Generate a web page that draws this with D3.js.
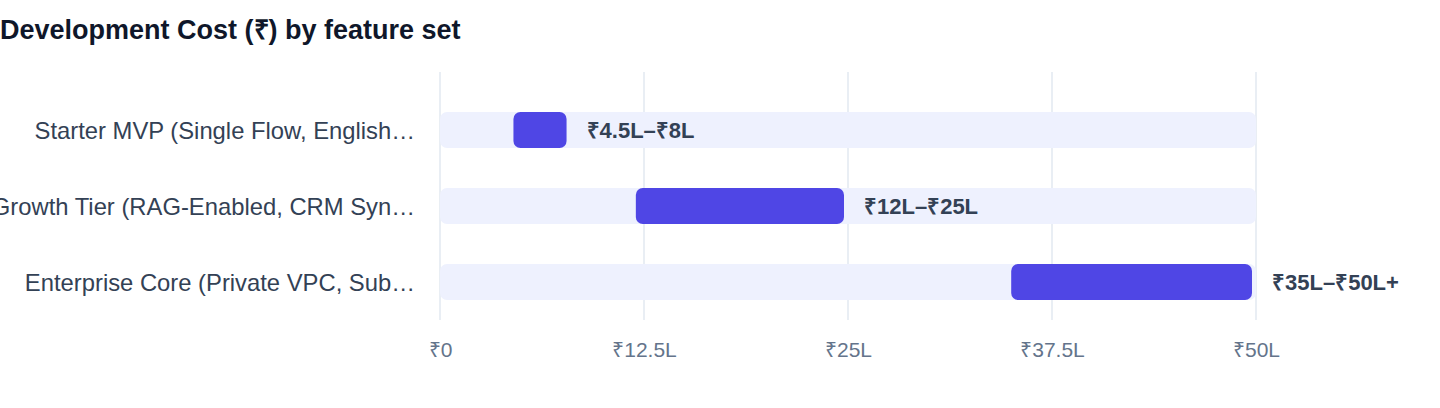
<!DOCTYPE html>
<html>
<head>
<meta charset="utf-8">
<script src="https://cdn.jsdelivr.net/npm/d3@7"></script>
<style>
  html, body { margin: 0; padding: 0; background: #ffffff; }
  body { font-family: "Helvetica Neue", Helvetica, Arial, "Liberation Sans", sans-serif; }
</style>
</head>
<body>
<div id="chart"></div>
<script>
// 数据
const title = 'Development Cost (₹) by feature set'
const categories = [
  'Starter MVP (Single Flow, English Only)',
  'Growth Tier (RAG-Enabled, CRM Sync)',
  'Enterprise Core (Private VPC, Sub-second Latency)'
]
const costLow = [4.5, 12, 35]
const costHigh = [8, 25, 50]
const rangeLabels = ['₹4.5L–₹8L', '₹12L–₹25L', '₹35L–₹50L+']
const tickValues = [0, 12.5, 25, 37.5, 50]
const tickLabels = ['₹0', '₹12.5L', '₹25L', '₹37.5L', '₹50L']

const width = 1440
const height = 408
const margin = { left: 440, right: 184, top: 72, bottom: 88 }
const maxChars = 33

const rows = categories.map((c, i) => ({
  name: c.length > maxChars ? c.slice(0, maxChars) + '…' : c,
  low: costLow[i],
  high: costHigh[i],
  label: rangeLabels[i]
}))

const svg = d3.select('#chart')
  .append('svg')
  .attr('width', width)
  .attr('height', height)

// 标题
svg.append('text')
  .attr('x', 0)
  .attr('y', 39)
  .style('font-size', '27px')
  .style('font-weight', 700)
  .style('fill', '#0f172a')
  .text(title)

const x = d3.scaleLinear()
  .domain([0, 50])
  .range([margin.left, width - margin.right])

const plotBottom = height - margin.bottom
const y = d3.scaleBand()
  .domain(rows.map(d => d.name))
  .range([margin.top + 20, plotBottom])
  .paddingInner(40 / 76)
  .paddingOuter(20 / 76)

// 网格线
svg.append('g')
  .selectAll('line')
  .data(tickValues)
  .enter()
  .append('line')
  .attr('x1', d => x(d))
  .attr('x2', d => x(d))
  .attr('y1', margin.top)
  .attr('y2', plotBottom)
  .style('stroke', '#e2e8f0')
  .style('stroke-width', 1.5)

// x 轴
const xAxis = svg.append('g')
  .attr('transform', `translate(0,${plotBottom})`)
  .call(d3.axisBottom(x)
    .tickValues(tickValues)
    .tickFormat((d, i) => tickLabels[i])
    .tickSize(0)
    .tickPadding(22))
xAxis.select('.domain').remove()
xAxis.selectAll('text')
  .style('font-family', 'inherit')
  .style('font-size', '21px')
  .style('fill', '#64748b')

// 行
const row = svg.append('g')
  .selectAll('g.row')
  .data(rows)
  .enter()
  .append('g')
  .classed('row', true)

// 背景轨道
row.append('rect')
  .attr('x', x(0))
  .attr('y', d => y(d.name))
  .attr('width', x(50) - x(0))
  .attr('height', y.bandwidth())
  .attr('rx', 7)
  .style('fill', '#eef1fe')

// 区间条
const inset = 4
row.append('rect')
  .attr('x', d => x(d.low))
  .attr('y', d => y(d.name))
  .attr('width', d => x(d.high) - x(d.low) - inset)
  .attr('height', y.bandwidth())
  .attr('rx', 7)
  .style('fill', '#4f46e5')

// 数值标签
row.append('text')
  .attr('x', d => x(d.high) - inset + 20)
  .attr('y', d => y(d.name) + y.bandwidth() / 2)
  .attr('dy', '0.36em')
  .style('font-size', '22px')
  .style('font-weight', 700)
  .style('fill', '#334155')
  .text(d => d.label)

// 分类标签
row.append('text')
  .attr('x', margin.left - 25)
  .attr('y', d => y(d.name) + y.bandwidth() / 2)
  .attr('dy', '0.36em')
  .attr('text-anchor', 'end')
  .style('font-size', '23.8px')
  .style('fill', '#334155')
  .text(d => d.name)
</script>
</body>
</html>
